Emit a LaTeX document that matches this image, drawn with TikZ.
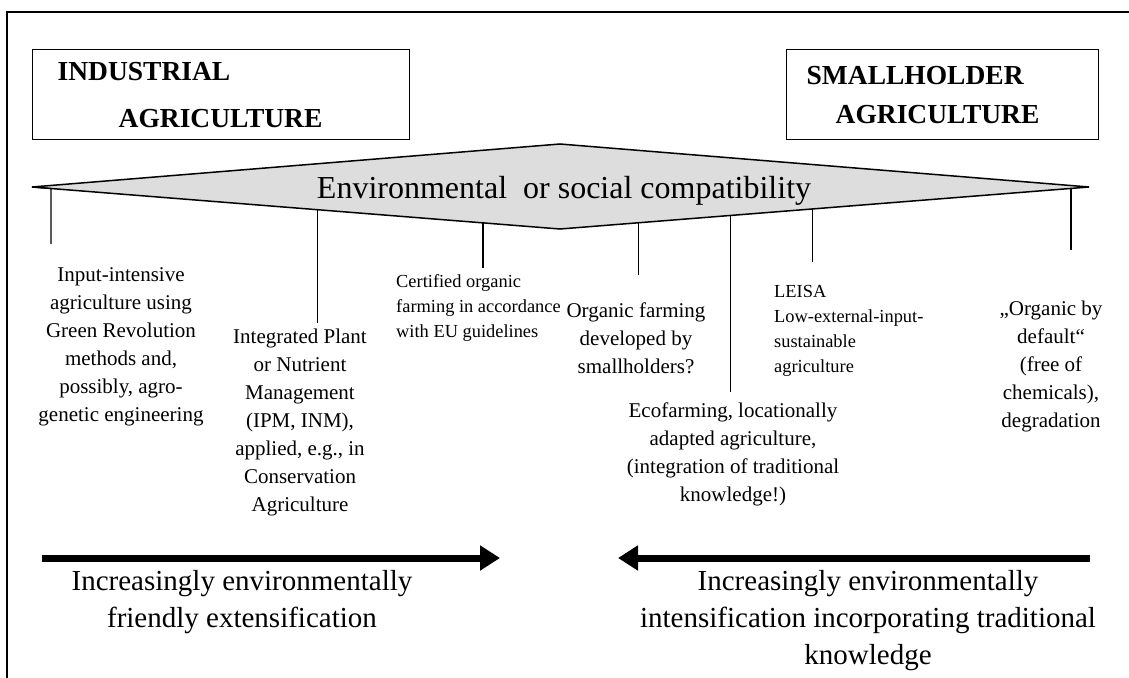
\documentclass[tikz,border=0pt]{standalone}
\usepackage{fontspec}
\setmainfont{Liberation Serif}
\usetikzlibrary{arrows.meta}
\definecolor{kitegray}{RGB}{221,221,221}

\begin{document}
\begin{tikzpicture}[
    x=1pt, y=-1pt,
    catbox/.style={rectangle, draw, line width=1.3pt, align=left, anchor=north west, minimum height=90pt, font=\bfseries\fontsize{27.5}{47}\selectfont},
    practice/.style={inner sep=0pt, align=center, anchor=base, font=\fontsize{21}{28}\selectfont},
    smallpractice/.style={inner sep=0pt, align=left, anchor=base west, font=\fontsize{18.4}{25}\selectfont},
    trend/.style={inner sep=0pt, align=center, anchor=base, font=\fontsize{29}{37}\selectfont},
    link/.style={line width=1.2pt},
    bigarrow/.style={line width=7pt, -{Triangle[length=20pt,width=24pt]}}
]
\useasboundingbox (0,0) rectangle (1129,677);

% Frame
\draw[line width=1.2pt] (7,12) rectangle (1140,690);

% Two poles
\node[catbox, text width=327pt, inner xsep=25pt] (industrial) at (32,49) {INDUSTRIAL\\\hspace*{61pt}AGRICULTURE};
\node[catbox, text width=272pt, inner xsep=20pt, font=\bfseries\fontsize{27.5}{39}\selectfont] (smallholder) at (786,49) {SMALLHOLDER\\\hspace*{29pt}AGRICULTURE};

% Compatibility kite
\coordinate (kl) at (32,187);
\coordinate (kt) at (560,144);
\coordinate (kr) at (1089,187);
\coordinate (kb) at (560,229);
\draw[line width=1.5pt, fill=kitegray] (kl) -- (kt) -- (kr) -- (kb) -- cycle;
\node[anchor=base, inner sep=0pt, font=\fontsize{32}{38}\selectfont] (compat) at (564,198) {Environmental\ \ or social compatibility};

% Points on the lower edge
\path (kl) -- (kb) coordinate[pos=0.036] (e1) coordinate[pos=0.540] (e2) coordinate[pos=0.854] (e3);
\path (kb) -- (kr) coordinate[pos=0.149] (e4) coordinate[pos=0.323] (e5) coordinate[pos=0.478] (e6) coordinate[pos=0.966] (e7);

% Farming systems (placed at the baseline of the last line)
\node[practice] (input) at (121,421) {Input-intensive\\agriculture using\\Green Revolution\\methods and,\\possibly, agro-\\genetic engineering};
\node[practice] (ipm) at (300,511) {Integrated Plant\\or Nutrient\\Management\\(IPM, INM),\\applied, e.g., in\\Conservation\\Agriculture};
\node[smallpractice] (certified) at (396,337) {Certified organic\\farming in accordance\\with EU guidelines};
\node[practice] (smallorg) at (636,373) {Organic farming\\developed by\\smallholders?};
\node[practice] (eco) at (733,501) {Ecofarming, locationally\\adapted agriculture,\\(integration of traditional\\knowledge!)};
\node[smallpractice] (leisa) at (774,372) {LEISA\\Low-external-input-\\sustainable\\agriculture};
\node[practice] (default) at (1051,427) {„Organic by\\default“\\(free of\\chemicals),\\degradation};

% Lines from the kite
\coordinate (f1) at (0,244);
\coordinate (f2) at (0,323);
\coordinate (f3) at (0,268);
\coordinate (f4) at (0,275);
\coordinate (f5) at (0,392);
\coordinate (f6) at (0,262);
\coordinate (f7) at (0,250);
\draw[link] (kl) -- (e1) -- (e1 |- f1);
\draw[link] (e2) -- (e2 |- f2);
\draw[link] (e3) -- (e3 |- f3);
\draw[link] (e4) -- (e4 |- f4);
\draw[link] (e5) -- (e5 |- f5);
\draw[link] (e6) -- (e6 |- f6);
\draw[link] (e7) -- (e7 |- f7);

% Trends
\coordinate (lbeg) at (42,558);
\coordinate (lend) at (500,558);
\coordinate (rbeg) at (1090,558);
\coordinate (rend) at (618,558);
\draw[bigarrow] (lbeg) -- (lend);
\draw[bigarrow] (rbeg) -- (rend);
\node[trend] (extens) at (242,627) {Increasingly environmentally\\friendly extensification};
\node[trend] (intens) at (868,664) {Increasingly environmentally\\intensification incorporating traditional\\knowledge};

\end{tikzpicture}
\end{document}
